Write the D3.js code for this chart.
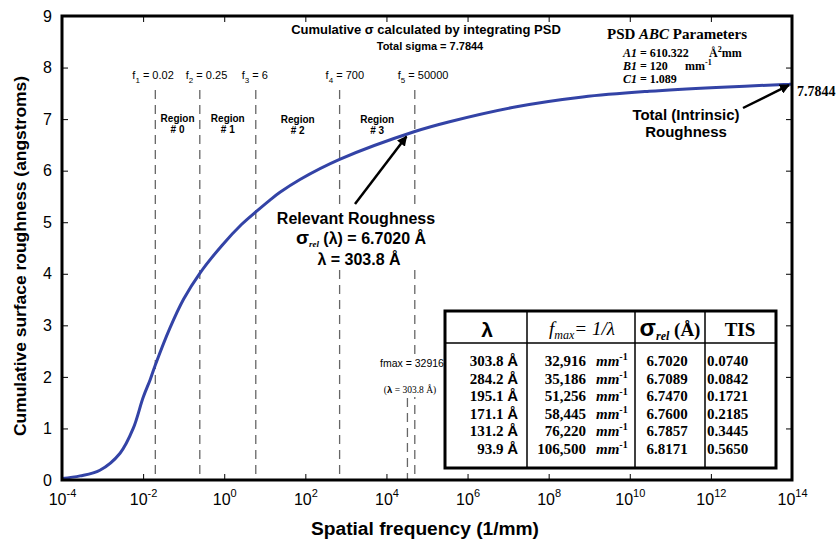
<!DOCTYPE html>
<html>
<head>
<meta charset="utf-8">
<script src="https://cdn.jsdelivr.net/npm/d3@7"></script>
<style>
  body { margin: 0; background: #fff; }
  svg { display: block; font-family: Arial, "Liberation Sans", sans-serif; }
  .serif { font-family: "Times New Roman", "Liberation Serif", serif; }
  .axis path { display: none; }
  .axis line { stroke: #000; stroke-width: 1; }
</style>
</head>
<body>
<div id="chart"></div>
<script>
(function(){
  'use strict';

  // data: cumulative sigma
  var freq  = [1e-4, 2.8e-4, 8.6e-4, 2.7e-3, 5.7e-3, 1e-2, 1.5e-2, 2e-2, 4.6e-2, 0.1, 0.25, 0.88, 2.7, 6,
               13.4, 23.7, 73.8, 700, 5e4, 3.6e5, 1.6e7, 6.9e8, 3e10, 1.35e12, 8.5e13, 1e14];
  var sigma = [0.03, 0.08, 0.19, 0.52, 1.00, 1.60, 1.95, 2.23, 2.95, 3.51, 4.01, 4.55, 4.96, 5.20,
               5.43, 5.58, 5.83, 6.22, 6.76, 6.95, 7.24, 7.43, 7.54, 7.615, 7.675, 7.68];

  var yTicks = [0, 1, 2, 3, 4, 5, 6, 7, 8, 9];
  var xExps  = [-4, -2, 0, 2, 4, 6, 8, 10, 12, 14];

  // region boundaries
  var fNames  = ['1', '2', '3', '4', '5'];
  var fValues = [0.02, 0.25, 6, 700, 50000];
  var fLabels = ['0.02', '0.25', '6', '700', '50000'];
  var regionNames = ['# 0', '# 1', '# 2', '# 3'];

  var fmaxValue = 32916;

  // table
  var tLambda = ['303.8', '284.2', '195.1', '171.1', '131.2', '93.9'];
  var tFmax   = ['32,916', '35,186', '51,256', '58,445', '76,220', '106,500'];
  var tSigma  = ['6.7020', '6.7089', '6.7470', '6.7600', '6.7857', '6.8171'];
  var tTis    = ['0.0740', '0.0842', '0.1721', '0.2185', '0.3445', '0.5650'];

  var W = 837, H = 539,
      L = 62, R = 792, T = 16, B = 480;

  var svg = d3.select('#chart').append('svg')
    .attr('width', W)
    .attr('height', H);

  var x = d3.scaleLog().domain([1e-4, 1e14]).range([L, R]);
  var y = d3.scaleLinear().domain([0, 9]).range([B, T]);

  // axes (ticks inward)
  var xAxisB = svg.append('g').attr('class', 'axis')
    .attr('transform', 'translate(0,' + B + ')')
    .call(d3.axisBottom(x).tickValues(xExps.map(function(e){ return Math.pow(10, e); }))
      .tickSize(-6).tickPadding(14).tickFormat(''));

  xAxisB.selectAll('.tick text').each(function(d){
    var t = d3.select(this).attr('font-size', 16).attr('fill', '#000');
    var e = Math.round(Math.log10(d));
    t.append('tspan').text('10');
    t.append('tspan').attr('dy', -8).attr('font-size', 11).text(e);
  });

  svg.append('g').attr('class', 'axis')
    .attr('transform', 'translate(0,' + T + ')')
    .call(d3.axisTop(x).tickValues(xExps.map(function(e){ return Math.pow(10, e); }))
      .tickSize(-6).tickFormat(''));

  svg.append('g').attr('class', 'axis')
    .attr('transform', 'translate(' + L + ',0)')
    .call(d3.axisLeft(y).tickValues(yTicks).tickSize(-6).tickPadding(10))
    .selectAll('.tick text').attr('font-size', 16).attr('fill', '#000');

  svg.append('g').attr('class', 'axis')
    .attr('transform', 'translate(' + R + ',0)')
    .call(d3.axisRight(y).tickValues(yTicks).tickSize(-6).tickFormat(''));

  // axis titles
  svg.append('text')
    .attr('x', (L + R) / 2 - 2).attr('y', 535)
    .attr('text-anchor', 'middle')
    .attr('font-size', 18).attr('font-weight', 'bold')
    .attr('textLength', 228).attr('lengthAdjust', 'spacingAndGlyphs')
    .text('Spatial frequency (1/mm)');

  svg.append('text')
    .attr('transform', 'translate(26,256) rotate(-90)')
    .attr('text-anchor', 'middle')
    .attr('font-size', 17).attr('font-weight', 'bold')
    .attr('textLength', 360).attr('lengthAdjust', 'spacingAndGlyphs')
    .text('Cumulative surface roughness (angstroms)');

  // titles
  svg.append('text')
    .attr('x', 426).attr('y', 34).attr('text-anchor', 'middle')
    .attr('font-size', 13).attr('font-weight', 'bold')
    .text('Cumulative \u03c3 calculated by integrating PSD');
  svg.append('text')
    .attr('x', 430).attr('y', 50).attr('text-anchor', 'middle')
    .attr('font-size', 11).attr('font-weight', 'bold')
    .text('Total sigma = 7.7844');

  // dashed region lines
  var dash = '9,6', lineTop = 90;
  svg.selectAll('.fline')
    .data(fValues)
    .enter()
    .append('line')
    .attr('class', 'fline')
    .attr('x1', function(d){ return x(d); })
    .attr('x2', function(d){ return x(d); })
    .attr('y1', lineTop).attr('y2', B)
    .style('stroke', '#666').style('stroke-width', 1.3)
    .style('stroke-dasharray', dash);

  svg.append('line')
    .attr('x1', x(fmaxValue)).attr('x2', x(fmaxValue))
    .attr('y1', 398).attr('y2', B)
    .style('stroke', '#666').style('stroke-width', 1.3)
    .style('stroke-dasharray', dash);

  // f labels
  var fDx = [-23, -14, -14, -14, -17];
  fValues.forEach(function(v, i){
    var t = svg.append('text')
      .attr('x', x(v) + fDx[i]).attr('y', 79)
      .attr('font-size', 11);
    t.append('tspan').text('f');
    t.append('tspan').attr('dy', 4).attr('font-size', 8).text(fNames[i]);
    t.append('tspan').attr('dy', -4).text(' = ' + fLabels[i]);
  });

  // region labels
  regionNames.forEach(function(r, i){
    var cx = x(Math.sqrt(fValues[i] * fValues[i + 1]));
    var g = svg.append('g').attr('font-size', 10).attr('font-weight', 'bold')
      .attr('text-anchor', 'middle');
    g.append('text').attr('x', cx).attr('y', 122 + (i > 1 ? 1 : 0)).text('Region');
    g.append('text').attr('x', cx).attr('y', 133 + (i > 1 ? 1 : 0)).text(r);
  });

  // curve
  var line = d3.line()
    .x(function(d){ return x(d[0]); })
    .y(function(d){ return y(d[1]); })
    .curve(d3.curveCatmullRom.alpha(0.5));

  svg.append('path')
    .datum(freq.map(function(f, i){ return [f, sigma[i]]; }))
    .attr('d', line)
    .style('fill', 'none')
    .style('stroke', '#3343a6')
    .style('stroke-width', 3);

  // frame
  svg.append('rect')
    .attr('x', L).attr('y', T)
    .attr('width', R - L).attr('height', B - T)
    .style('fill', 'none').style('stroke', '#000').style('stroke-width', 3);

  // arrow marker
  svg.append('defs').append('marker')
    .attr('id', 'arr')
    .attr('viewBox', '0 0 10 10')
    .attr('refX', 9).attr('refY', 5)
    .attr('markerWidth', 4).attr('markerHeight', 4)
    .attr('orient', 'auto')
    .append('path').attr('d', 'M0,0 L10,5 L0,10 z').attr('fill', '#000');

  // fmax annotation
  svg.append('rect')
    .attr('x', 378).attr('y', 355).attr('width', 70).attr('height', 42)
    .style('fill', '#fff');
  svg.append('text')
    .attr('x', 412).attr('y', 367).attr('text-anchor', 'middle')
    .attr('font-size', 10.5)
    .text('fmax = ' + fmaxValue);
  var lam = svg.append('text')
    .attr('class', 'serif')
    .attr('x', 410).attr('y', 393).attr('text-anchor', 'middle')
    .attr('font-size', 9.5);
  lam.append('tspan').text('(');
  lam.append('tspan').attr('font-family', 'Arial').attr('font-weight', 'bold').text('\u03bb');
  lam.append('tspan').text(' = 303.8 \u00c5)');

  // relevant roughness annotation
  svg.append('rect')
    .attr('x', 288).attr('y', 208).attr('width', 146).attr('height', 62)
    .style('fill', '#fff');
  svg.append('line')
    .attr('x1', 355).attr('y1', 204)
    .attr('x2', x(fmaxValue) - 1).attr('y2', y(6.702) + 2)
    .style('stroke', '#000').style('stroke-width', 2.5)
    .attr('marker-end', 'url(#arr)');

  var rr = svg.append('g').attr('font-weight', 'bold').attr('text-anchor', 'middle');
  rr.append('text').attr('x', 356).attr('y', 224).attr('font-size', 16).text('Relevant Roughness');
  var s = rr.append('text').attr('x', 361).attr('y', 244).attr('font-size', 16);
  s.append('tspan').attr('font-size', 19).text('\u03c3');
  s.append('tspan').attr('dy', 3).attr('font-size', 9).attr('font-style', 'italic')
    .attr('font-family', 'Times New Roman, Liberation Serif, serif').text('rel');
  s.append('tspan').attr('dy', -3).text(' (\u03bb) = 6.7020 \u00c5');
  rr.append('text').attr('x', 359).attr('y', 265).attr('font-size', 16).text('\u03bb = 303.8 \u00c5');

  // total roughness annotation
  svg.append('line')
    .attr('x1', 743).attr('y1', 108)
    .attr('x2', R - 3).attr('y2', y(7.68) + 1)
    .style('stroke', '#000').style('stroke-width', 2.5)
    .attr('marker-end', 'url(#arr)');
  var tr = svg.append('g').attr('font-weight', 'bold').attr('text-anchor', 'middle').attr('font-size', 15);
  tr.append('text').attr('x', 686).attr('y', 120).text('Total (Intrinsic)');
  tr.append('text').attr('x', 686).attr('y', 137).text('Roughness');
  svg.append('text').attr('class', 'serif')
    .attr('x', 797).attr('y', 96)
    .attr('font-size', 14).attr('font-weight', 'bold')
    .text('7.7844');

  // PSD ABC parameters
  var p = svg.append('g').attr('class', 'serif').attr('font-weight', 'bold');
  var p0 = p.append('text').attr('x', 607).attr('y', 39).attr('font-size', 15);
  p0.append('tspan').text('PSD ');
  p0.append('tspan').attr('font-style', 'italic').text('ABC');
  p0.append('tspan').text(' Parameters');

  var p1 = p.append('text').attr('x', 623).attr('y', 57).attr('font-size', 12);
  p1.append('tspan').attr('font-style', 'italic').text('A1');
  p1.append('tspan').text(' = 610.322');
  p1.append('tspan').attr('x', 709).text('\u00c5');
  p1.append('tspan').attr('dy', -5).attr('font-size', 8).text('2');
  p1.append('tspan').attr('dy', 5).text('mm');

  var p2 = p.append('text').attr('x', 623).attr('y', 70).attr('font-size', 12);
  p2.append('tspan').attr('font-style', 'italic').text('B1');
  p2.append('tspan').text(' = 120');
  p2.append('tspan').attr('x', 685).text('mm');
  p2.append('tspan').attr('dy', -5).attr('font-size', 8).text('-1');

  var p3 = p.append('text').attr('x', 623).attr('y', 83).attr('font-size', 12);
  p3.append('tspan').attr('font-style', 'italic').text('C1');
  p3.append('tspan').text(' = 1.089');

  // table
  var colX = [445, 527, 635, 705, 776],
      tTop = 311, tHead = 343, tBot = 468,
      rowY0 = 366, rowStep = 17.5;

  var tb = svg.append('g');
  tb.append('rect')
    .attr('x', colX[0]).attr('y', tTop)
    .attr('width', colX[4] - colX[0]).attr('height', tBot - tTop)
    .style('fill', '#fff').style('stroke', '#000').style('stroke-width', 3);
  tb.append('line')
    .attr('x1', colX[0]).attr('x2', colX[4]).attr('y1', tHead).attr('y2', tHead)
    .style('stroke', '#000').style('stroke-width', 1.5);
  [1, 2, 3].forEach(function(i){
    tb.append('line')
      .attr('x1', colX[i]).attr('x2', colX[i]).attr('y1', tTop).attr('y2', tBot)
      .style('stroke', '#000').style('stroke-width', 1.5);
  });

  // header
  tb.append('text').attr('x', 487).attr('y', 337).attr('text-anchor', 'middle')
    .attr('font-size', 21).attr('font-weight', 'bold').text('\u03bb');
  var h2 = tb.append('text').attr('class', 'serif').attr('x', 582).attr('y', 335)
    .attr('text-anchor', 'middle').attr('font-size', 19).attr('font-style', 'italic');
  h2.append('tspan').text('f');
  h2.append('tspan').attr('dy', 4).attr('font-size', 12).text('max');
  h2.append('tspan').attr('dy', -4).text('= 1/\u03bb');
  var h3 = tb.append('text').attr('class', 'serif').attr('x', 670).attr('y', 336)
    .attr('text-anchor', 'middle').attr('font-size', 19).attr('font-weight', 'bold');
  h3.append('tspan').attr('font-family', 'Arial').attr('font-size', 24).text('\u03c3');
  h3.append('tspan').attr('dy', 4).attr('font-size', 12).attr('font-style', 'italic').text('rel');
  h3.append('tspan').attr('dy', -4).text(' (\u00c5)');
  tb.append('text').attr('class', 'serif').attr('x', 740).attr('y', 336)
    .attr('text-anchor', 'middle').attr('font-size', 19).attr('font-weight', 'bold').text('TIS');

  // rows
  var rows = tb.append('g').attr('class', 'serif').attr('font-weight', 'bold').attr('font-size', 15);
  tLambda.forEach(function(v, i){
    var ry = rowY0 + i * rowStep;
    var c1 = rows.append('text').attr('x', 518).attr('y', ry).attr('text-anchor', 'end');
    c1.append('tspan').text(v + ' ');
    c1.append('tspan').attr('font-family', 'Arial').text('\u00c5');
    rows.append('text').attr('x', 586).attr('y', ry).attr('text-anchor', 'end').text(tFmax[i]);
    var c2 = rows.append('text').attr('x', 596).attr('y', ry).attr('font-style', 'italic');
    c2.append('tspan').text('mm');
    c2.append('tspan').attr('dy', -6).attr('font-size', 10).attr('font-style', 'normal').text('-1');
    rows.append('text').attr('x', 667).attr('y', ry).attr('text-anchor', 'middle').text(tSigma[i]);
    rows.append('text').attr('x', 707).attr('y', ry).text(tTis[i]);
  });

}());
</script>
</body>
</html>
